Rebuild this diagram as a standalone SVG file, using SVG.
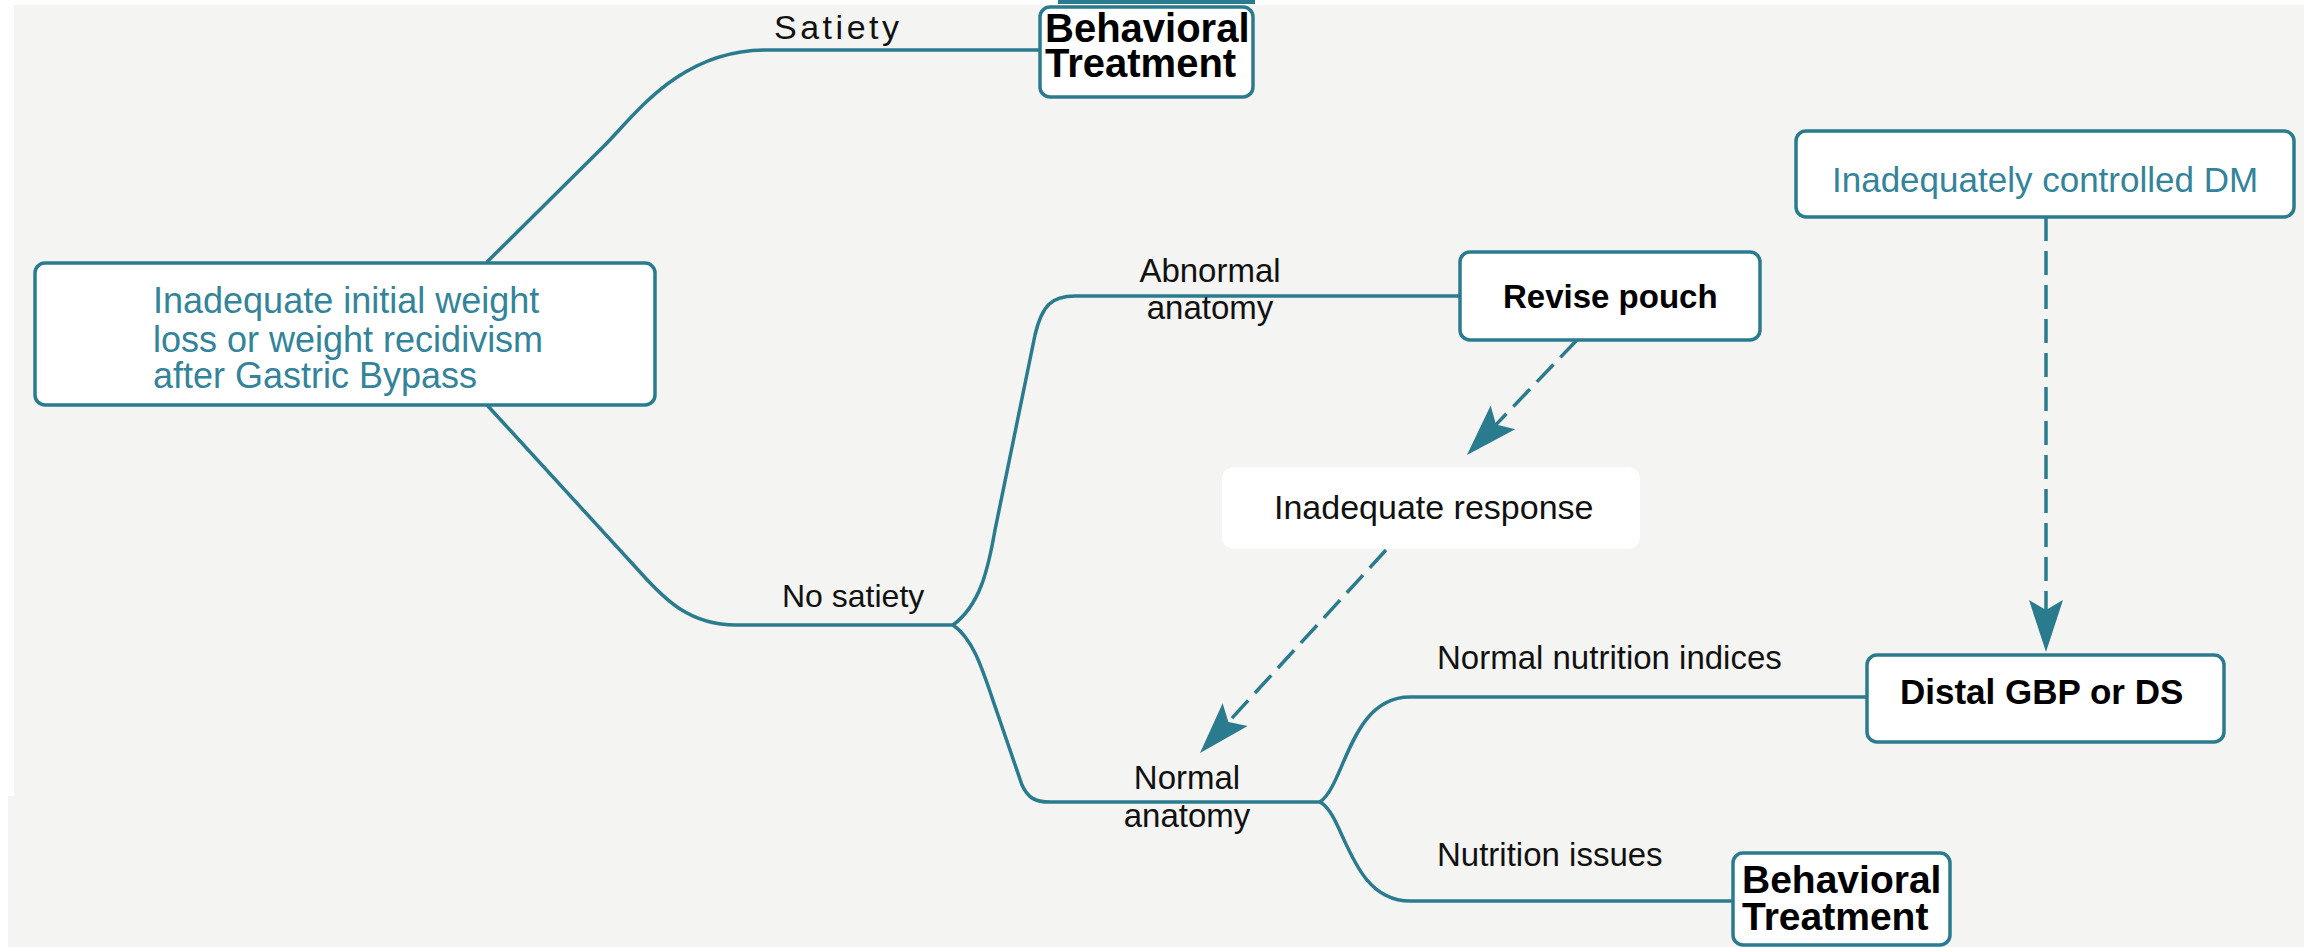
<svg xmlns="http://www.w3.org/2000/svg" width="2308" height="947" viewBox="0 0 2308 947">
<style>
.box{fill:#ffffff;stroke:#2b7b8e;stroke-width:3.5}
.conn{fill:none;stroke:#2b7b8e;stroke-width:3.5}
.dash{fill:none;stroke:#2b7b8e;stroke-width:3.5;stroke-dasharray:24 10}
.t{font-family:"Liberation Sans",Arial,sans-serif;fill:#111111}
.tb{font-family:"Liberation Sans",Arial,sans-serif;font-weight:bold;fill:#000000}
.tt{font-family:"Liberation Sans",Arial,sans-serif;fill:#33849a}
</style>
<defs>
<marker id="dart" markerUnits="userSpaceOnUse" viewBox="-12 -19 56 38" markerWidth="56" markerHeight="38" refX="0" refY="0" orient="auto">
<path d="M42,0 L-10,-17 L0,0 L-10,17 Z" fill="#2b7b8e"/>
</marker>
</defs>
<rect x="0" y="0" width="2308" height="947" fill="#ffffff"/>
<rect x="14" y="5" width="2290" height="942" fill="#f4f4f2"/>
<rect x="8" y="796" width="10" height="151" fill="#f4f4f2"/>
<rect x="1058" y="0" width="197" height="4" fill="#2b7b8e"/>

<g id="connectors">
<path class="conn" d="M487,262 L605,145 C635,115 680,50 766,50 H1040"/>
<path class="conn" d="M487,405 L640,572 C665,600 690,625 736,625 H953"/>
<path class="conn" d="M953,625 C980,605 988,570 995,530 L1035,335 C1042,305 1052,296 1075,296 H1460"/>
<path class="conn" d="M953,625 C975,640 984,675 998,715 L1022,785 C1028,798 1035,802 1050,802 H1320"/>
<path class="conn" d="M1320,802 C1345,785 1350,697 1410,697 H1867"/>
<path class="conn" d="M1320,802 C1345,815 1350,901 1410,901 H1733"/>
<path class="dash" d="M1577,340 L1496,424.6" marker-end="url(#dart)"/>
<path class="dash" d="M1386,550 L1228.4,722" marker-end="url(#dart)"/>
<path class="dash" d="M2046,217 L2046,610" marker-end="url(#dart)"/>
<text class="t" x="774" y="39" font-size="34" textLength="125" lengthAdjust="spacing">Satiety</text>
<text class="t" x="1210" y="282" font-size="33" text-anchor="middle">Abnormal</text>
<text class="t" x="1210" y="319" font-size="33" text-anchor="middle">anatomy</text>
<text class="t" x="782" y="607" font-size="32">No satiety</text>
<text class="t" x="1187" y="789" font-size="33" text-anchor="middle">Normal</text>
<text class="t" x="1187" y="827" font-size="33" text-anchor="middle">anatomy</text>
<text class="t" x="1437" y="669" font-size="33">Normal nutrition indices</text>
<text class="t" x="1437" y="866" font-size="33">Nutrition issues</text>
</g>

<g id="start">
<rect class="box" x="35" y="263" width="620" height="142" rx="10"/>
<text class="tt" x="153" y="313" font-size="36">Inadequate initial weight</text>
<text class="tt" x="153" y="352" font-size="36">loss or weight recidivism</text>
<text class="tt" x="153" y="388" font-size="36">after Gastric Bypass</text>
</g>

<g id="behavioral-top">
<rect class="box" x="1040" y="7" width="213" height="90" rx="10"/>
<text class="tb" x="1045" y="42" font-size="40">Behavioral</text>
<text class="tb" x="1045" y="77" font-size="40">Treatment</text>
</g>

<g id="revise-pouch">
<rect class="box" x="1460" y="252" width="300" height="88" rx="10"/>
<text class="tb" x="1503" y="308" font-size="33">Revise pouch</text>
</g>

<g id="inadequate-response">
<rect x="1222" y="467" width="418" height="82" rx="12" fill="#ffffff"/>
<text class="t" x="1274" y="519" font-size="34">Inadequate response</text>
</g>

<g id="dm">
<rect class="box" x="1796" y="131" width="498" height="86" rx="10"/>
<text class="tt" x="1832" y="192" font-size="35">Inadequately controlled DM</text>
</g>

<g id="distal">
<rect class="box" x="1867" y="655" width="357" height="87" rx="10"/>
<text class="tb" x="1900" y="704" font-size="35">Distal GBP or DS</text>
</g>

<g id="behavioral-bottom">
<rect class="box" x="1733" y="853" width="217" height="92" rx="10"/>
<text class="tb" x="1742" y="893" font-size="39">Behavioral</text>
<text class="tb" x="1742" y="930" font-size="39">Treatment</text>
</g>
</svg>
